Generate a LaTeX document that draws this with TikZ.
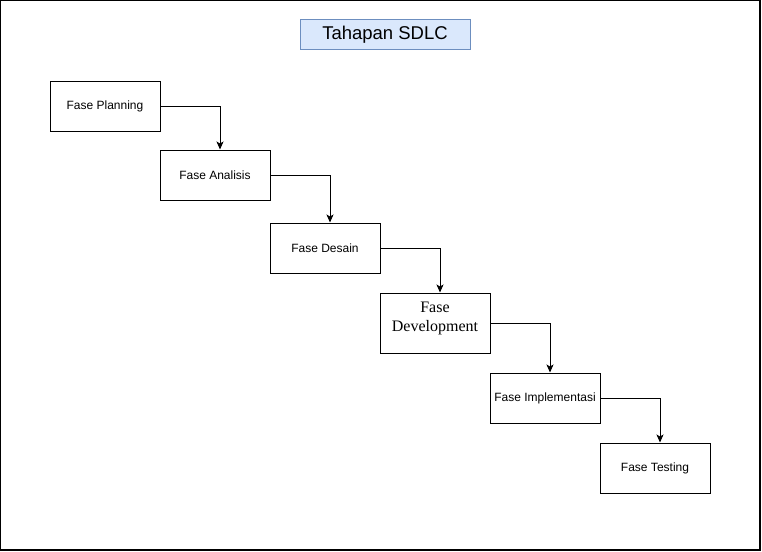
\documentclass[tikz,border=0pt]{standalone}
\usepackage{fontspec}
\setmainfont{Liberation Sans}
\newfontfamily\serifdev{Liberation Serif}
\usetikzlibrary{arrows.meta}
\definecolor{titlefill}{HTML}{DAE8FC}
\definecolor{titledraw}{HTML}{6C8EBF}
\begin{document}
\begin{tikzpicture}[x=1pt,y=-1pt,
  box/.style={draw,line width=1pt,minimum width=110pt,minimum height=50pt,inner sep=0pt,font=\fontsize{12}{14}\selectfont},
  conn/.style={line width=1pt,-{Stealth[length=8pt,width=7pt,inset=2pt]}}]
\useasboundingbox (0,0) rectangle (762,551);
\draw[line width=1.3pt] (0.65,0.65) rectangle (760,550);
\node[draw=titledraw,fill=titlefill,line width=1pt,minimum width=170pt,minimum height=30pt,inner sep=0pt,font=\fontsize{18.5}{20}\selectfont] (title) at (385,35) {Tahapan SDLC};
\node[box] (plan) at (105,106) {Fase Planning};
\node[box] (ana) at (215,175) {Fase Analisis};
\node[box] (des) at (325,248) {Fase Desain};
\node[box,minimum height=60pt] (dev) at (435,323) {};
\node[font=\serifdev\fontsize{16}{19}\selectfont,align=center,inner sep=0pt] (devtext) at (435,318) {Fase\\Development};
\node[box] (imp) at (545,398) {Fase Implementasi};
\node[box] (tes) at (655,468) {Fase Testing};
\draw[conn] (plan.east) -| ([xshift=5pt]ana.north);
\draw[conn] (ana.east) -| ([xshift=5pt]des.north);
\draw[conn] (des.east) -| ([xshift=5pt]dev.north);
\draw[conn] (dev.east) -| ([xshift=5pt]imp.north);
\draw[conn] (imp.east) -| ([xshift=5pt]tes.north);
\end{tikzpicture}
\end{document}
